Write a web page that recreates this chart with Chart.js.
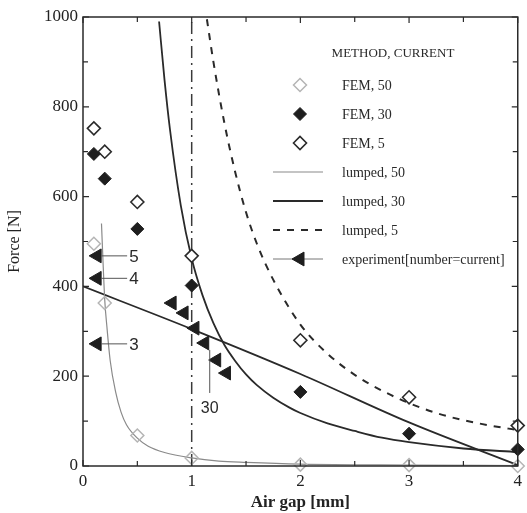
<!DOCTYPE html>
<html>
<head>
<meta charset="utf-8">
<script src="https://cdn.jsdelivr.net/npm/chart.js@4.4.0/dist/chart.umd.min.js"></script>
<style>
html, body { margin: 0; padding: 0; background: #fff; }
#wrap { width: 527px; height: 513px; }
</style>
</head>
<body>
<div id="wrap"><canvas id="c" width="527" height="513"></canvas></div>
<script>
// FEM results at the computed air gaps
var gap = [0.1, 0.2, 0.5, 1, 2, 3, 4];
var fem50 = [495, 363, 68, 18, 3, 2, 0];
var fem30 = [695, 640, 528, 402, 165, 72, 37];
var fem5 = [752, 700, 588, 468, 280, 153, 90];

// lumped model curves
var l50x = [0.17, 0.2, 0.22, 0.25, 0.3, 0.35, 0.4, 0.5, 0.6, 0.75, 1.0, 1.25, 1.5, 2, 3, 4];
var l50y = [540, 370, 310, 235, 165, 120, 92, 62, 44, 30, 18, 11, 8, 4, 2, 1];
var l30x = [0.7, 0.75, 0.8, 0.9, 1.0, 1.1, 1.2, 1.3, 1.4, 1.5, 1.6, 1.75, 1.9, 2.0, 2.25, 2.5, 2.75, 3.0, 3.5, 4.0];
var l30y = [990, 860, 750, 580, 462, 380, 318, 270, 234, 204, 180, 152, 130, 118, 95, 78, 63, 53, 39, 31];
var l5x = [1.14, 1.2, 1.3, 1.4, 1.5, 1.6, 1.75, 2.0, 2.25, 2.5, 2.75, 3.0, 3.25, 3.5, 3.75, 4.0];
var l5y = [995, 900, 765, 655, 565, 495, 415, 315, 250, 203, 168, 140, 118, 102, 90, 80];

// the straight-ish solid line
var fitX = [0, 1, 2, 3, 4];
var fitY = [400, 305, 205, 97, 2];

// experiment points and their current labels
var expX = [0.13, 0.13, 0.13, 0.82, 0.93, 1.03, 1.12, 1.23, 1.32];
var expY = [468, 418, 272, 363, 341, 307, 274, 236, 207];
var expLabels = ['5', '4', '3', '', '', '', '30', '', ''];

var yTicksShown = [0, 200, 400, 600, 800, 1000];
var xTicksShown = [0, 1, 2, 3, 4];

function pts(xs, ys) {
    var out = [];
    for (var i = 0; i < xs.length; i++) out.push({ x: xs[i], y: ys[i] });
    return out;
}

var serif = '"Liberation Serif", "DejaVu Serif", serif';
var sans = '"Liberation Sans", Arial, sans-serif';

// frame + inward ticks
var framePlugin = {
    id: 'frame',
    afterDraw: function(chart) {
        var ctx = chart.ctx, a = chart.chartArea;
        var xs = chart.scales.x, ys = chart.scales.y;
        ctx.save();
        ctx.strokeStyle = '#2a2a2a';
        ctx.lineWidth = 1.5;
        ctx.strokeRect(a.left, a.top, a.right - a.left, a.bottom - a.top);
        ctx.lineWidth = 1.2;
        ctx.beginPath();
        xs.ticks.forEach(function(t) {
            var px = xs.getPixelForValue(t.value);
            var len = Number.isInteger(t.value) ? 6 : 5;
            ctx.moveTo(px, a.bottom); ctx.lineTo(px, a.bottom - len);
            ctx.moveTo(px, a.top); ctx.lineTo(px, a.top + len);
        });
        ys.ticks.forEach(function(t) {
            var py = ys.getPixelForValue(t.value);
            var len = t.value % 200 === 0 ? 6 : 5;
            ctx.moveTo(a.left, py); ctx.lineTo(a.left + len, py);
            ctx.moveTo(a.right, py); ctx.lineTo(a.right - len, py);
        });
        ctx.stroke();
        ctx.restore();
    }
};

// arrows with current numbers next to experiment points
var labelPlugin = {
    id: 'explabels',
    afterDatasetsDraw: function(chart) {
        var ctx = chart.ctx;
        var idx = chart.data.datasets.findIndex(function(d) { return d.leg === 'exp'; });
        var meta = chart.getDatasetMeta(idx);
        ctx.save();
        ctx.strokeStyle = '#555';
        ctx.fillStyle = '#2a2a2a';
        ctx.lineWidth = 1;
        ctx.textBaseline = 'middle';
        for (var i = 0; i < expLabels.length; i++) {
            if (!expLabels[i]) continue;
            var p = meta.data[i];
            ctx.beginPath();
            if (expLabels[i] === '30') {
                ctx.moveTo(p.x + 5, p.y + 7);
                ctx.lineTo(p.x + 5, p.y + 50);
                ctx.stroke();
                ctx.font = '16px ' + sans;
                ctx.textAlign = 'center';
                ctx.fillText(expLabels[i], p.x + 5, p.y + 66);
            } else {
                ctx.moveTo(p.x + 4, p.y);
                ctx.lineTo(p.x + 30, p.y);
                ctx.stroke();
                ctx.font = '17px ' + sans;
                ctx.textAlign = 'left';
                ctx.fillText(expLabels[i], p.x + 32, p.y + 1);
            }
        }
        ctx.restore();
    }
};

// legend inside the plot, top right
var legendPlugin = {
    id: 'boxlegend',
    afterDraw: function(chart) {
        var ctx = chart.ctx;
        var mx = 300, tx = 342, y0 = 85, dy = 29;
        ctx.save();
        ctx.fillStyle = '#2a2a2a';
        ctx.font = '13px ' + serif;
        ctx.textAlign = 'center';
        ctx.textBaseline = 'middle';
        ctx.fillText('METHOD, CURRENT', 393, 54);
        ctx.font = '14px ' + serif;
        ctx.textAlign = 'left';
        var row = 0;
        chart.data.datasets.forEach(function(ds) {
            if (!ds.leg) return;
            var y = y0 + row * dy;
            ctx.save();
            if (ds.leg === 'point') {
                ctx.fillStyle = ds.backgroundColor;
                ctx.strokeStyle = ds.borderColor;
                ctx.lineWidth = ds.borderWidth;
                Chart.helpers.drawPoint(ctx, { pointStyle: ds.pointStyle, rotation: ds.rotation || 0, radius: ds.pointRadius, borderWidth: ds.borderWidth }, mx, y);
            } else if (ds.leg === 'line') {
                ctx.strokeStyle = ds.borderColor;
                ctx.lineWidth = ds.borderWidth;
                ctx.setLineDash(ds.borderDash || []);
                ctx.beginPath();
                ctx.moveTo(273, y); ctx.lineTo(323, y);
                ctx.stroke();
            } else {
                ctx.strokeStyle = '#777';
                ctx.lineWidth = 1;
                ctx.beginPath();
                ctx.moveTo(273, y); ctx.lineTo(323, y);
                ctx.stroke();
                ctx.fillStyle = ds.backgroundColor;
                ctx.strokeStyle = ds.borderColor;
                Chart.helpers.drawPoint(ctx, { pointStyle: ds.pointStyle, rotation: ds.rotation, radius: ds.pointRadius, borderWidth: 1 }, mx, y);
            }
            ctx.restore();
            ctx.fillText(ds.label, tx, y + 1);
            row++;
        });
        ctx.restore();
    }
};

var chart = new Chart(document.getElementById('c'), {
    type: 'scatter',
    data: {
        datasets: [
            {
                label: 'FEM, 50', leg: 'point',
                data: pts(gap, fem50),
                pointStyle: 'rectRot', pointRadius: 6.5,
                backgroundColor: 'rgba(255,255,255,0)', borderColor: '#b5b5b5', borderWidth: 1.5,
                showLine: false, clip: false
            },
            {
                label: 'FEM, 30', leg: 'point',
                data: pts(gap, fem30),
                pointStyle: 'rectRot', pointRadius: 6.5,
                backgroundColor: '#1e1e1e', borderColor: '#1e1e1e', borderWidth: 1,
                showLine: false, clip: false
            },
            {
                label: 'FEM, 5', leg: 'point',
                data: pts(gap, fem5),
                pointStyle: 'rectRot', pointRadius: 6.5,
                backgroundColor: '#ffffff', borderColor: '#2a2a2a', borderWidth: 1.6,
                showLine: false, clip: false
            },
            {
                label: 'lumped, 50', leg: 'line',
                data: pts(l50x, l50y),
                showLine: true, pointRadius: 0, borderColor: '#8a8a8a', borderWidth: 1.2,
                cubicInterpolationMode: 'monotone'
            },
            {
                label: 'lumped, 30', leg: 'line',
                data: pts(l30x, l30y),
                showLine: true, pointRadius: 0, borderColor: '#2a2a2a', borderWidth: 1.8,
                cubicInterpolationMode: 'monotone'
            },
            {
                label: 'lumped, 5', leg: 'line',
                data: pts(l5x, l5y),
                showLine: true, pointRadius: 0, borderColor: '#2a2a2a', borderWidth: 2, borderDash: [7, 7],
                cubicInterpolationMode: 'monotone'
            },
            {
                label: 'experiment[number=current]', leg: 'exp', order: -1,
                data: pts(expX, expY),
                pointStyle: 'triangle', rotation: -90, pointRadius: 8,
                backgroundColor: '#1e1e1e', borderColor: '#1e1e1e', borderWidth: 1,
                showLine: false, clip: false
            },
            {
                label: 'line',
                data: pts(fitX, fitY),
                showLine: true, pointRadius: 0, borderColor: '#2a2a2a', borderWidth: 1.8,
                cubicInterpolationMode: 'monotone'
            },
            {
                label: 'gap 1 mm',
                data: [{ x: 1, y: 0 }, { x: 1, y: 1000 }],
                showLine: true, pointRadius: 0, borderColor: '#3a3a3a', borderWidth: 1.5, borderDash: [12, 5, 2, 5]
            }
        ]
    },
    options: {
        responsive: false,
        animation: false,
        devicePixelRatio: 1,
        layout: { padding: { left: 0, right: 4, top: 17, bottom: 0 } },
        plugins: { legend: { display: false }, tooltip: { enabled: false } },
        scales: {
            x: {
                type: 'linear', min: 0, max: 4,
                grid: { display: false, drawTicks: false },
                border: { display: false },
                ticks: {
                    stepSize: 0.5, autoSkip: false, maxRotation: 0, padding: 5,
                    color: '#222', font: { family: serif, size: 17 },
                    callback: function(v) { return xTicksShown.indexOf(v) >= 0 ? v : ''; }
                },
                title: {
                    display: true, text: 'Air gap [mm]', color: '#222',
                    font: { family: serif, size: 17, weight: 'bold' },
                    padding: { top: 0, bottom: 0 }
                },
                afterFit: function(s) { s.height = 47; }
            },
            y: {
                type: 'linear', min: 0, max: 1000,
                grid: { display: false, drawTicks: false },
                border: { display: false },
                ticks: {
                    stepSize: 100, autoSkip: false, padding: 5,
                    color: '#222', font: { family: serif, size: 17 },
                    callback: function(v) { return yTicksShown.indexOf(v) >= 0 ? v : ''; }
                },
                title: {
                    display: true, text: 'Force [N]', color: '#222',
                    font: { family: serif, size: 16 },
                    padding: { top: 5, bottom: 0 }
                },
                afterFit: function(s) { s.width = 83; }
            }
        }
    },
    plugins: [framePlugin, labelPlugin, legendPlugin]
});
</script>
</body>
</html>
